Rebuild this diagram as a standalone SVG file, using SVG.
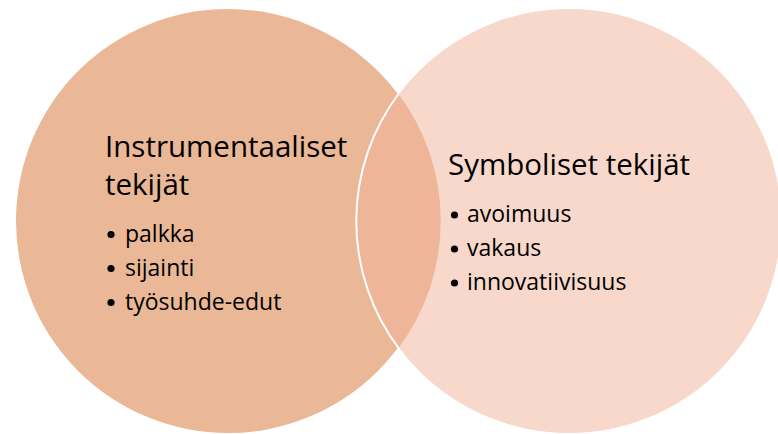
<svg xmlns="http://www.w3.org/2000/svg" width="778" height="434" viewBox="0 0 778 434">
  <style>
    .title { font-family: "Open Sans", "Noto Sans", sans-serif; font-size: 29.5px; fill: #000; }
    .item { font-family: "Open Sans", "Noto Sans", sans-serif; font-size: 23px; fill: #000; }
    .dot { fill: #000; }
  </style>
  <rect width="778" height="434" fill="#ffffff"/>

  <!-- left set -->
  <g id="instrumentaaliset">
    <circle cx="228" cy="221" r="212" fill="#EAB896"/>
    <text class="title" x="105" y="157">Instrumentaaliset</text>
    <text class="title" x="105" y="195">tekijät</text>
    <circle class="dot" cx="111" cy="234.5" r="3.6"/>
    <text class="item" x="125" y="242">palkka</text>
    <circle class="dot" cx="111" cy="268.5" r="3.6"/>
    <text class="item" x="125" y="276">sijainti</text>
    <circle class="dot" cx="111" cy="302.5" r="3.6"/>
    <text class="item" x="125" y="310">työsuhde-edut</text>
  </g>

  <!-- right set -->
  <g id="symboliset">
    <circle cx="569" cy="221" r="212" fill="#F7D8CB"/>
    <!-- overlap lens, outlined in white along the right circle's edge -->
    <path d="M398.5 94 A212 212 0 0 1 398.5 348 A212 212 0 0 1 398.5 94 Z" fill="#EFB598"/>
    <path d="M398.5 94 A212 212 0 0 0 398.5 348" fill="none" stroke="#ffffff" stroke-width="2"/>
    <text class="title" x="448" y="175">Symboliset tekijät</text>
    <circle class="dot" cx="454.5" cy="215" r="3.6"/>
    <text class="item" x="467" y="222">avoimuus</text>
    <circle class="dot" cx="454.5" cy="249" r="3.6"/>
    <text class="item" x="467" y="256">vakaus</text>
    <circle class="dot" cx="454.5" cy="283" r="3.6"/>
    <text class="item" x="467" y="290">innovatiivisuus</text>
  </g>

  <g id="connectors"/>
</svg>
